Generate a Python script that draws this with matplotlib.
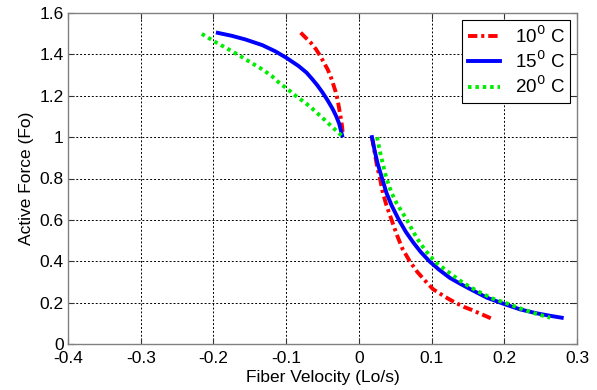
import numpy as np
import matplotlib
matplotlib.use("Agg")
import matplotlib.pyplot as plt

plt.rcParams['font.family'] = ['Liberation Sans', 'DejaVu Sans']

# 10 C (lengthening branch left of 0, shortening branch right of 0)
red_lx = [-0.080, -0.073, -0.066, -0.059, -0.053, -0.048, -0.043, -0.039, -0.036, -0.032, -0.029, -0.027, -0.025, -0.023, -0.022]
red_ly = [1.505, 1.480, 1.456, 1.425, 1.392, 1.360, 1.328, 1.296, 1.264, 1.220, 1.176, 1.136, 1.096, 1.050, 1.008]
red_rx = [0.018, 0.022, 0.025, 0.029, 0.033, 0.038, 0.045, 0.052, 0.060, 0.070, 0.080, 0.090, 0.102, 0.118, 0.130, 0.144, 0.155, 0.170, 0.183]
red_ry = [1.00, 0.92, 0.86, 0.80, 0.73, 0.67, 0.60, 0.53, 0.46, 0.40, 0.35, 0.31, 0.265, 0.229, 0.205, 0.180, 0.165, 0.142, 0.122]

# 15 C
blue_lx = [-0.194, -0.175, -0.156, -0.133, -0.115, -0.100, -0.083, -0.072, -0.064, -0.057, -0.050, -0.043, -0.036, -0.031, -0.027, -0.023]
blue_ly = [1.504, 1.490, 1.472, 1.445, 1.415, 1.384, 1.344, 1.312, 1.280, 1.250, 1.216, 1.178, 1.136, 1.100, 1.064, 1.008]
blue_rx = [0.018, 0.022, 0.026, 0.032, 0.038, 0.045, 0.055, 0.065, 0.075, 0.085, 0.097, 0.110, 0.125, 0.140, 0.155, 0.176, 0.200, 0.222, 0.245, 0.262, 0.279]
blue_ry = [1.00, 0.93, 0.87, 0.80, 0.73, 0.67, 0.60, 0.54, 0.49, 0.445, 0.40, 0.36, 0.32, 0.29, 0.262, 0.224, 0.193, 0.167, 0.148, 0.137, 0.127]

# 20 C
green_lx = [-0.216, -0.198, -0.179, -0.165, -0.152, -0.133, -0.120, -0.110, -0.098, -0.087, -0.076, -0.066, -0.056, -0.046, -0.035, -0.024]
green_ly = [1.499, 1.461, 1.424, 1.396, 1.368, 1.328, 1.296, 1.264, 1.232, 1.200, 1.172, 1.144, 1.112, 1.080, 1.044, 1.008]
green_rx = [0.025, 0.029, 0.033, 0.038, 0.045, 0.052, 0.066, 0.080, 0.090, 0.098, 0.107, 0.125, 0.144, 0.164, 0.183, 0.203, 0.222, 0.242, 0.263]
green_ry = [1.00, 0.93, 0.87, 0.80, 0.73, 0.68, 0.60, 0.51, 0.46, 0.424, 0.392, 0.343, 0.294, 0.254, 0.221, 0.197, 0.172, 0.148, 0.127]

labels = ['10$^0$ C', '15$^0$ C', '20$^0$ C']

fig = plt.figure(figsize=(5.97, 3.90), dpi=100)
ax = fig.add_axes([68/597, 1 - 344/390, 509/597, 331/390])

dashdot = (0, (2.4, 1.0, 0.8, 1.0))
dotted = (0, (0.9, 1.0))
lw = 2.8

ax.plot(red_lx, red_ly, color='red', lw=lw, linestyle=dashdot, label=labels[0])
ax.plot(red_rx, red_ry, color='red', lw=lw, linestyle=dashdot)
ax.plot(blue_lx, blue_ly, color='blue', lw=lw, linestyle='-', label=labels[1])
ax.plot(blue_rx, blue_ry, color='blue', lw=lw, linestyle='-')
ax.plot(green_lx, green_ly, color='#00ee00', lw=lw, linestyle=dotted, label=labels[2])
ax.plot(green_rx, green_ry, color='#00ee00', lw=lw, linestyle=dotted)

ax.set_xlim(-0.4, 0.3)
ax.set_ylim(0, 1.6)
ax.set_xticks(np.arange(-0.4, 0.31, 0.1))
ax.set_yticks(np.arange(0, 1.61, 0.2))
ax.set_xticklabels(['-0.4', '-0.3', '-0.2', '-0.1', '0', '0.1', '0.2', '0.3'])
ax.set_yticklabels(['0', '0.2', '0.4', '0.6', '0.8', '1', '1.2', '1.4', '1.6'])
ax.tick_params(direction='in', top=True, right=True, labelsize=12.5, length=4, color='#333333')
ax.tick_params(axis='x', pad=5)
ax.tick_params(axis='y', pad=3)
for s in ax.spines.values():
    s.set_color('#808080')
    s.set_linewidth(1.0)
ax.grid(True, color='black', linestyle=(0, (2, 2)), linewidth=0.7)

ax.set_xlabel('Fiber Velocity (Lo/s)', fontsize=12.5, labelpad=3)
ax.set_ylabel('Active Force (Fo)', fontsize=12.5, labelpad=4)

leg = ax.legend(loc='upper right', fontsize=13.5, fancybox=False, framealpha=1,
                edgecolor='black', handlelength=1.7, handletextpad=0.8,
                borderaxespad=0.35, labelspacing=0.2, borderpad=0.3)
leg.get_frame().set_linewidth(0.8)

fig.savefig('out.png', dpi=100)
